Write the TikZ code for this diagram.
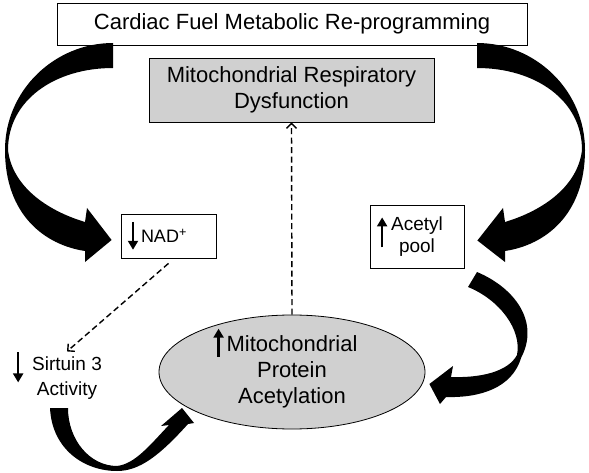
\documentclass[tikz,border=0pt]{standalone}
\usepackage{fontspec}
\setmainfont{Liberation Sans}
\usetikzlibrary{arrows.meta,shapes.geometric}
\definecolor{boxgray}{RGB}{208,208,208}
% small up/down arrows inside the labels: #1 above, #2 below the baseline
\newcommand{\upa}[2]{\smash{\tikz[baseline=0pt]\draw[line width=2.2pt,-{Triangle[length=9pt,width=10pt]}] (0pt,-#2) -- (0pt,#1);}}
\newcommand{\dna}[2]{\smash{\tikz[baseline=0pt]\draw[line width=2.2pt,-{Triangle[length=9pt,width=10pt]}] (0pt,#1) -- (0pt,-#2);}}

\begin{document}
\begin{tikzpicture}[x=1pt, y=-1pt,
		box/.style={draw, line width=0.8pt, inner sep=2pt, align=center},
		fat/.style={fill=black},
		dashar/.style={line width=1.4pt, dash pattern=on 6pt off 3.5pt, -{Straight Barb[length=5pt,width=10pt]}}]
	\useasboundingbox (0,0) rectangle (589,473);
	\node[box, minimum width=470pt, minimum height=42pt, font=\fontsize{22}{26}\selectfont] (C) at (292,24) {Cardiac Fuel Metabolic Re-programming};
	\node[box, fill=boxgray, minimum width=285pt, minimum height=64pt, font=\fontsize{22}{26}\selectfont] (M) at (291.5,90) {Mitochondrial Respiratory\\Dysfunction};
	\node[box, inner sep=7pt, text width=81pt, align=left, minimum height=44pt, font=\fontsize{18}{22}\selectfont] (N) at (168.5,236) {\dna{21pt}{7pt}\hspace{3pt}NAD\textsuperscript{+}};
	\node[box, minimum width=94pt, minimum height=63pt, font=\fontsize{19}{22}\selectfont] (A) at (417,236.5) {\llap{\upa{13pt}{17pt}\hspace{4pt}}Acetyl\\pool};
	\node[ellipse, draw, line width=0.8pt, fill=boxgray, minimum width=266pt, minimum height=114pt, inner sep=0pt, align=center, font=\fontsize{22}{26}\selectfont] (P) at (292,372) {\llap{\upa{23pt}{5pt}\hspace{3pt}}Mitochondrial\\Protein\\Acetylation};
	\node[inner sep=1pt, align=center, font=\fontsize{19}{25}\selectfont] (S) at (67,378) {\llap{\dna{18pt}{12pt}\hspace{9pt}}Sirtuin 3\\Activity};
	% dashed links
	\draw[dashar] (P.north) -- (M.south);
	\draw[dashar] ([yshift=-5pt]N.south) -- ([yshift=4pt]S.north);
	% fat curved arrows
	\coordinate (tl) at ([xshift=-9pt,yshift=-4pt]N.west);
	\coordinate (tr) at ([xshift=13pt,yshift=-4pt]A.east);
	\coordinate (tp) at ([xshift=4pt,yshift=-12pt]P.east);
	\coordinate (ts) at (182,408);
	\fill[fat] (113,43) .. controls (55,43) and (5,90) .. (5,150)
		.. controls (5,215) and (45,245) .. (85,251)
		-- (85,262) -- (tl) -- (87,208) -- (85,222)
		.. controls (45,210) and (12,185) .. (8,150)
		.. controls (8,100) and (55,68) .. (113,68) -- cycle;
	\fill[fat] (477,43) .. controls (535,43) and (585,90) .. (585,150)
		.. controls (585,215) and (545,245) .. (505,251)
		-- (505,262) -- (tr) -- (503,208) -- (505,222)
		.. controls (545,210) and (578,185) .. (582,150)
		.. controls (582,100) and (535,68) .. (477,68) -- cycle;
	\fill[fat] (477,272) .. controls (515,288) and (540,322) .. (521,358)
		.. controls (512,388) and (480,398) .. (446,397)
		-- (440,404) -- (tp) -- (453,366) -- (451,377)
		.. controls (480,378) and (508,372) .. (517,355)
		.. controls (522,330) and (500,300) .. (468,287) -- cycle;
	\fill[fat] (50,408) .. controls (52,450) and (85,471) .. (117,471)
		.. controls (140,471) and (160,455) .. (188,424)
		-- (194,423) -- (ts) -- (161,426) -- (169,425)
		.. controls (150,445) and (135,464) .. (117,466)
		.. controls (90,466) and (68,440) .. (68,408) -- cycle;
\end{tikzpicture}
\end{document}
